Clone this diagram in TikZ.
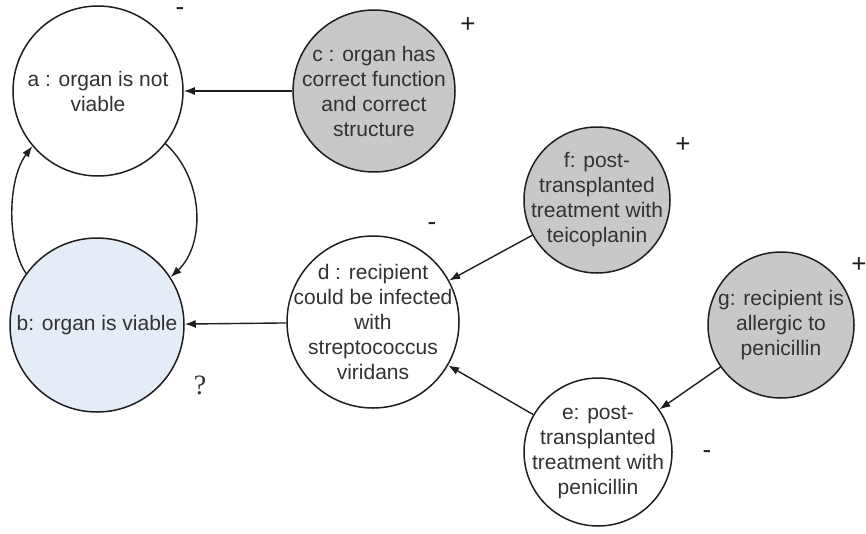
\documentclass[tikz,border=0pt]{standalone}
\usepackage{fontspec}
\setmainfont{Liberation Sans}
\newfontfamily\qfont{Liberation Serif}
\usetikzlibrary{arrows.meta}
\definecolor{nodegray}{RGB}{200,200,200}
\definecolor{paleblue}{RGB}{228,236,247}
\definecolor{inkgray}{RGB}{50,50,50}
\definecolor{rim}{RGB}{30,30,30}
\begin{document}
\begin{tikzpicture}[x=1pt,y=-1pt,
  bubble/.style={circle, draw=rim, line width=1.5pt, inner sep=0pt},
  caption/.style={align=center, font=\fontsize{21}{25}\selectfont, text=inkgray, inner sep=0pt},
  sign/.style={font=\fontsize{26}{28}\selectfont, text=rim, inner sep=0pt},
  link/.style={draw=rim, line width=1.4pt, -{Latex[length=11pt,width=8pt]}}]
\useasboundingbox (0,0) rectangle (866,533);

% circles
\node[bubble, fill=white, minimum size=170pt] (a) at (98,91) {};
\node[bubble, fill=paleblue, minimum size=174pt] (b) at (97,325) {};
\node[bubble, fill=nodegray, minimum size=162pt] (c) at (374,91) {};
\node[bubble, fill=white, minimum size=172pt] (d) at (373,322) {};
\node[bubble, fill=white, minimum size=148pt] (e) at (598,452) {};
\node[bubble, fill=nodegray, minimum size=146pt] (f) at (597,200) {};
\node[bubble, fill=nodegray, minimum size=146pt] (g) at (781,325) {};

% texts
\node[caption] (ta) at (a) {a : organ is not\\viable};
\node[caption] (tb) at (b) {b: organ is viable};
\node[caption] (tc) at (c) {c : organ has\\correct function\\and correct\\structure};
\node[caption] (td) at (d) {d : recipient\\could be infected\\with\\streptococcus\\viridans};
\node[caption] (te) at (e) {e: post-\\transplanted\\treatment with\\penicillin};
\node[caption] (tf) at (f) {f: post-\\transplanted\\treatment with\\teicoplanin};
\node[caption] (tg) at (g) {g: recipient is\\allergic to\\penicillin};

% signs
\node[sign] (sa) at (180,12) {-};
\node[sign] (sc) at (468,25) {+};
\node[sign] (sf) at (683,145) {+};
\node[sign] (sg) at (859,265) {+};
\node[sign] (sd) at (432,227) {-};
\node[sign] (se) at (707,455) {-};
\node[inner sep=0pt, text=inkgray, font=\qfont\fontsize{28}{30}\selectfont] (q) at (200,385) {?};

% connectors
\draw[link] (c) -- (a);
\draw[link] (d) -- (b);
\draw[link] (f) -- (d);
\draw[link] (e) -- (d);
\draw[link] (g) -- (e);
\draw[link] (a.-38) .. controls (205,180) and (205,245) .. (b.33);
\draw[link] (b.144) .. controls (7,245) and (7,180) .. (a.220);
\end{tikzpicture}
\end{document}
